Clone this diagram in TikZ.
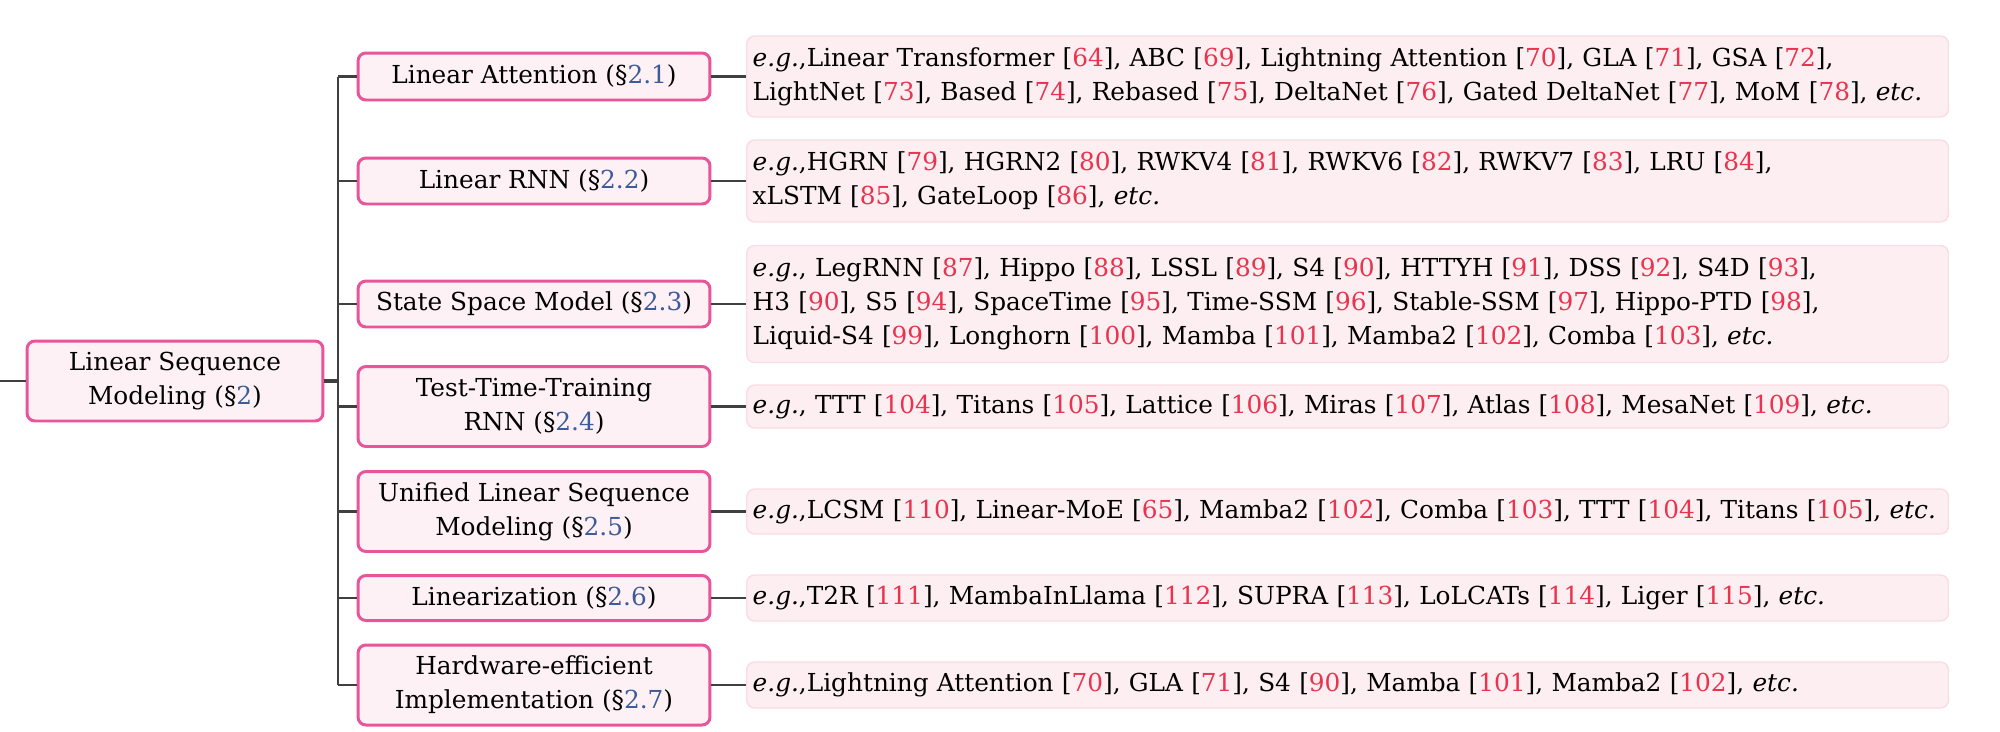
\documentclass[tikz,border=0pt]{standalone}
\usepackage{fontspec}
\setmainfont{DejaVu Serif}
\usepackage{xcolor}
\definecolor{refred}{HTML}{E8344E}
\definecolor{secblue}{HTML}{3D5A99}
\definecolor{midborder}{HTML}{E8559A}
\definecolor{midfill}{HTML}{FDF1F5}
\definecolor{leaffill}{HTML}{FDEEF2}
\definecolor{leafborder}{HTML}{F9DCE4}
\definecolor{connline}{HTML}{404040}
\newcommand{\myref}[1]{[\textcolor{refred}{#1}]}
\newcommand{\mysec}[1]{\textcolor{secblue}{#1}}
\newcommand{\myeg}{\textit{e.g.},}
\newcommand{\myetc}{\textit{etc.}}
\begin{document}
\begin{tikzpicture}[x=0.02cm,y=-0.02cm,
  txt/.style={font=\fontsize{14.1}{19.2}\selectfont},
  midbox/.style={txt,draw=midborder,fill=midfill,line width=1.7pt,rounded corners=4.5pt,
    minimum width=7.04cm,align=center,inner sep=0pt},
  leafbox/.style={txt,draw=leafborder,fill=leaffill,line width=0.8pt,rounded corners=4.5pt,
    text width=23.8cm,align=left,inner xsep=0.12cm,inner ysep=0pt,anchor=west},
  conn/.style={draw=connline,line width=1.6pt}]
\useasboundingbox (0,0) rectangle (2000,731);
% root
\node[midbox,minimum width=5.92cm,minimum height=1.6cm] (root) at (175,381)
  {Linear Sequence\\Modeling (§\mysec{2})};
% level 1
\node[midbox,minimum height=0.94cm] (la) at (534,76.5) {Linear Attention (§\mysec{2.1})};
\node[midbox,minimum height=0.92cm] (lr) at (534,181) {Linear RNN (§\mysec{2.2})};
\node[midbox,minimum height=0.92cm] (ss) at (534,304) {State Space Model (§\mysec{2.3})};
\node[midbox,minimum height=1.6cm] (tt) at (534,406.5) {Test-Time-Training\\RNN (§\mysec{2.4})};
\node[midbox,minimum height=1.6cm] (un) at (534,511.5) {Unified Linear Sequence\\Modeling (§\mysec{2.5})};
\node[midbox,minimum height=0.9cm] (li) at (534,598) {Linearization (§\mysec{2.6})};
\node[midbox,minimum height=1.6cm] (hw) at (534,685) {Hardware-efficient\\Implementation (§\mysec{2.7})};
% leaves
\node[leafbox,minimum height=1.62cm] (l1) at (746,76.5)
  {\mbox{\myeg Linear Transformer \myref{64}, ABC \myref{69}, Lightning Attention \myref{70}, GLA \myref{71}, GSA \myref{72},}\\
   \mbox{LightNet \myref{73}, Based \myref{74}, Rebased \myref{75}, DeltaNet \myref{76}, Gated DeltaNet \myref{77}, MoM \myref{78}, \myetc}};
\node[leafbox,minimum height=1.64cm] (l2) at (746,181)
  {\mbox{\myeg HGRN \myref{79}, HGRN2 \myref{80}, RWKV4 \myref{81}, RWKV6 \myref{82}, RWKV7 \myref{83}, LRU \myref{84},}\\
   \mbox{xLSTM \myref{85}, GateLoop \myref{86}, \myetc}};
\node[leafbox,minimum height=2.34cm] (l3) at (746,304)
  {\mbox{\myeg{} LegRNN \myref{87}, Hippo \myref{88}, LSSL \myref{89}, S4 \myref{90}, HTTYH \myref{91}, DSS \myref{92}, S4D \myref{93},}\\
   \mbox{H3 \myref{90}, S5 \myref{94}, SpaceTime \myref{95}, Time-SSM \myref{96}, Stable-SSM \myref{97}, Hippo-PTD \myref{98},}\\
   \mbox{Liquid-S4 \myref{99}, Longhorn \myref{100}, Mamba \myref{101}, Mamba2 \myref{102}, Comba \myref{103}, \myetc}};
\node[leafbox,minimum height=0.86cm] (l4) at (746,406.5)
  {\mbox{\myeg{} TTT \myref{104}, Titans \myref{105}, Lattice \myref{106}, Miras \myref{107}, Atlas \myref{108}, MesaNet \myref{109}, \myetc}};
\node[leafbox,minimum height=0.9cm] (l5) at (746,511.5)
  {\mbox{\myeg LCSM \myref{110}, Linear-MoE \myref{65}, Mamba2 \myref{102}, Comba \myref{103}, TTT \myref{104}, Titans \myref{105}, \myetc}};
\node[leafbox,minimum height=0.92cm] (l6) at (746,598)
  {\mbox{\myeg T2R \myref{111}, MambaInLlama \myref{112}, SUPRA \myref{113}, LoLCATs \myref{114}, Liger \myref{115}, \myetc}};
\node[leafbox,minimum height=0.92cm] (l7) at (746,685)
  {\mbox{\myeg Lightning Attention \myref{70}, GLA \myref{71}, S4 \myref{90}, Mamba \myref{101}, Mamba2 \myref{102}, \myetc}};
% connectors
\coordinate (lft) at (0,381);
\coordinate (trk) at (338,381);
\draw[conn] (lft) -- (root.west);
\draw[conn,line width=2.4pt] (root.east) -- (trk);
\draw[conn] (trk |- la.west) -- (trk |- hw.west);
\foreach \n in {la,lr,ss,tt,un,li,hw}{\draw[conn] (trk |- \n.west) -- (\n.west);}
\draw[conn] (la.east) -- (l1.west);
\draw[conn] (lr.east) -- (l2.west);
\draw[conn] (ss.east) -- (l3.west);
\draw[conn] (tt.east) -- (l4.west);
\draw[conn] (un.east) -- (l5.west);
\draw[conn] (li.east) -- (l6.west);
\draw[conn] (hw.east) -- (l7.west);
\end{tikzpicture}
\end{document}
